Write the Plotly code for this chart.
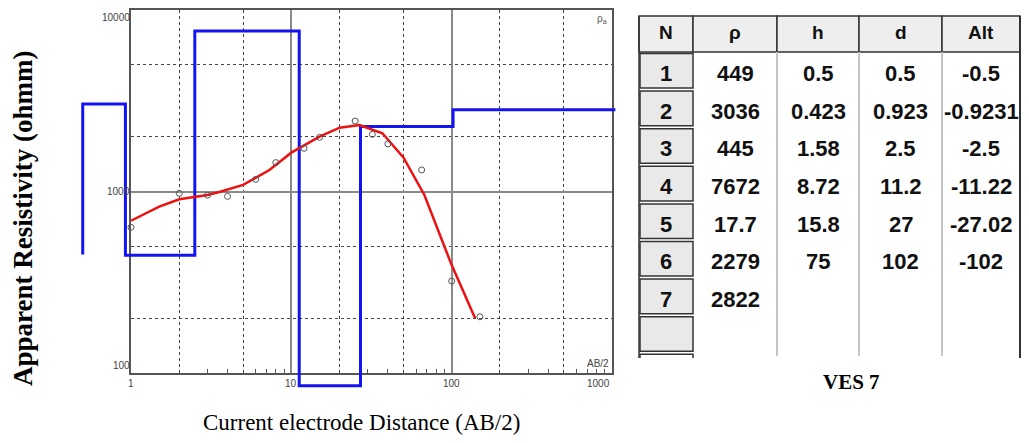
import math
import plotly.graph_objects as go

# ---------------- data ----------------
layer_n = [1, 2, 3, 4, 5, 6, 7]
layer_rho = [449, 3036, 445, 7672, 17.7, 2279, 2822]
layer_h = [0.5, 0.423, 1.58, 8.72, 15.8, 75]
layer_d = [0.5, 0.923, 2.5, 11.2, 27, 102]
layer_alt = [-0.5, -0.9231, -2.5, -11.22, -27.02, -102]

obs_ab2 = [1, 2, 3, 4, 6, 8, 12, 15, 25, 32, 40, 65, 100, 150]
obs_rho = [635, 977, 955, 940, 1167, 1443, 1730, 1989, 2445, 2066, 1828, 1314, 321, 204]

calc_ab2 = [1, 1.5, 2, 3, 3.6, 5, 7.3, 10, 15, 20, 26.6, 37, 50, 67.6, 99, 140]
calc_rho = [690, 825, 906, 957, 997, 1087, 1313, 1637, 2005, 2246, 2324, 2093, 1542, 957, 402, 200]

x_tickvals = [1, 10, 100, 1000]
x_ticktext = ["1", "10", "100", "1000"]
y_tickvals = [100, 1000, 10000]
y_ticktext = ["100", "1000", "10000"]

table_headers = ["N", "ρ", "h", "d", "Alt"]

# ---------------- layout constants (pixels of the page) ----------------
W, H = 1029, 443
OFF = 8                                      # page body margin
FW, FH = W - 2 * OFF, H - 2 * OFF            # figure size
FL, FR, FT, FB = 131, 612, 10, 373           # frame of the log-log chart
XR = (0, 3)                                  # log10 range of frame x
YR = (2, 4)                                  # log10 range of frame y
SX = (FR - FL) / (XR[1] - XR[0])
SY = (FB - FT) / (YR[1] - YR[0])
MODEL_FLOOR = 85                             # display floor of the model line
MODEL_X_END = 1050                           # half-space drawn to this AB/2


def px(x):
    return (x - OFF) / FW


def py(y):
    return 1 - (y - OFF) / FH


fig = go.Figure()

# dummy traces so that frame and minor-tick axes are drawn
fig.add_trace(go.Scatter(x=[], y=[], xaxis="x", yaxis="y", showlegend=False))
fig.add_trace(go.Scatter(x=[], y=[], xaxis="x3", yaxis="y3", showlegend=False))

# layered model (step line), allowed to run outside the frame
model_x = layer_d + [MODEL_X_END]
model_y = [max(r, MODEL_FLOOR) for r in layer_rho]
fig.add_trace(go.Scatter(
    x=model_x, y=model_y, xaxis="x2", yaxis="y2", mode="lines",
    line=dict(color="#1414f0", width=3, shape="vh"), showlegend=False,
    hoverinfo="skip"))

# calculated curve
fig.add_trace(go.Scatter(
    x=calc_ab2, y=calc_rho, xaxis="x2", yaxis="y2", mode="lines",
    line=dict(color="#ee1111", width=2.5), showlegend=False))

# observed points
fig.add_trace(go.Scatter(
    x=obs_ab2, y=obs_rho, xaxis="x2", yaxis="y2", mode="markers",
    marker=dict(symbol="circle-open", size=6, color="#555555",
                line=dict(width=1)), showlegend=False))

tickfont = dict(family="Liberation Sans Narrow, Liberation Sans, Arial", size=10,
                color="#444444")

frame_axis = dict(
    type="log", showline=True, mirror=True, linecolor="#555555", linewidth=1.5,
    showgrid=True, gridcolor="#8a8a8a", gridwidth=1.5, zeroline=False,
    ticks="", showticklabels=False, fixedrange=True,
    minor=dict(dtick="D2", showgrid=True, gridcolor="#444444",
               griddash="dot", gridwidth=1, ticks=""),
)

fig.update_layout(
    width=FW, height=FH, autosize=False,
    margin=dict(l=0, r=0, t=0, b=0, pad=0),
    paper_bgcolor="white", plot_bgcolor="rgba(0,0,0,0)",
    xaxis=dict(frame_axis, range=list(XR), domain=[px(FL), px(FR)],
               anchor="y", tickmode="array", tickvals=x_tickvals),
    yaxis=dict(frame_axis, range=list(YR), domain=[py(FB), py(FT)],
               anchor="x", tickmode="array", tickvals=y_tickvals),
    xaxis3=dict(type="log", range=list(XR), overlaying="x", anchor="y3",
                showgrid=False, showticklabels=False, zeroline=False,
                ticks="", fixedrange=True,
                minor=dict(dtick="D1", ticks="inside", ticklen=4,
                           tickcolor="#555555", showgrid=False)),
    yaxis3=dict(type="log", range=list(YR), overlaying="y", anchor="x3",
                showgrid=False, showticklabels=False, zeroline=False,
                ticks="", fixedrange=True,
                minor=dict(dtick="D1", ticks="inside", ticklen=4,
                           tickcolor="#555555", showgrid=False)),
    xaxis2=dict(type="log", domain=[0, 1], anchor="y2",
                range=[XR[0] - (FL - OFF) / SX, XR[1] + (W - OFF - FR) / SX],
                visible=False, fixedrange=True),
    yaxis2=dict(type="log", domain=[0, 1], anchor="x2",
                range=[YR[0] - (H - OFF - FB) / SY, YR[1] + (FT - OFF) / SY],
                visible=False, fixedrange=True),
)

annos = []


def note(x, y, text, font, xanchor="center", yanchor="middle", **kw):
    d = dict(x=px(x), y=py(y), xref="paper", yref="paper", text=text,
             showarrow=False, xanchor=xanchor, yanchor=yanchor, font=font)
    d.update(kw)
    annos.append(d)


# tick labels, kept inside the frame extent like the original software
for v, t in zip(x_tickvals, x_ticktext):
    anc = "right" if v == max(x_tickvals) else "center"
    annos.append(dict(x=math.log10(v), xref="x", y=py(FB + 3), yref="paper",
                      text=t, showarrow=False, xanchor=anc, yanchor="top",
                      font=tickfont))
for v, t in zip(y_tickvals, y_ticktext):
    anc = "top" if v == max(y_tickvals) else (
        "bottom" if v == min(y_tickvals) else "middle")
    annos.append(dict(x=px(FL + 1), xref="paper", y=math.log10(v), yref="y",
                      text=t, showarrow=False, xanchor="right", yanchor=anc,
                      font=tickfont))

# corner labels of the chart
note(FR - 3, FT + 9, "ρ<sub>a</sub>",
     dict(family="Liberation Sans", size=10, color="#555555"), xanchor="right")
note(FR - 1, FB - 10, "AB/2",
     dict(family="Liberation Sans Narrow, Liberation Sans", size=10,
          color="#444444"), xanchor="right")
# axis titles
note(23, 219, "<b>Apparent Resistivity (ohmm)</b>",
     dict(family="Liberation Serif", size=27, color="black"), textangle=-90)
note(361, 422, "Current electrode Distance (AB/2)",
     dict(family="Liberation Serif", size=23, color="black"))
note(851, 382, "<b>VES 7</b>",
     dict(family="Liberation Serif", size=21, color="black"))

# ---------------- table ----------------
col_edges = [639, 693, 777, 859, 942, 1020]
T_TOP, T_HEAD = 16, 52
ROW_H = 37.6
n_rows = len(layer_n) + 1
T_BOT = T_HEAD + ROW_H * n_rows
T_CUT = 358

shapes = []
dark = "#333333"
# header cells
for i in range(len(table_headers)):
    shapes.append(dict(type="rect", xref="paper", yref="paper",
                       x0=px(col_edges[i]), x1=px(col_edges[i + 1]),
                       y0=py(T_HEAD), y1=py(T_TOP),
                       fillcolor="#eeeeee", line=dict(color=dark, width=1.5),
                       layer="below"))
# data column separators
for xe in col_edges[2:-1]:
    shapes.append(dict(type="line", xref="paper", yref="paper",
                       x0=px(xe), x1=px(xe), y0=py(T_HEAD), y1=py(T_CUT - 2),
                       line=dict(color="#c4c4c4", width=2)))
# right border and left border
shapes.append(dict(type="line", xref="paper", yref="paper",
                   x0=px(col_edges[-1]), x1=px(col_edges[-1]),
                   y0=py(T_TOP), y1=py(T_CUT), line=dict(color=dark, width=2)))
shapes.append(dict(type="line", xref="paper", yref="paper",
                   x0=px(col_edges[0]), x1=px(col_edges[0]),
                   y0=py(T_TOP), y1=py(T_CUT), line=dict(color=dark, width=1.5)))
# N column cells
for r in range(n_rows):
    top = T_HEAD + ROW_H * r + 1.5
    bot = T_HEAD + ROW_H * (r + 1) - 1.5
    shapes.append(dict(type="rect", xref="paper", yref="paper",
                       x0=px(col_edges[0] + 1), x1=px(col_edges[1]),
                       y0=py(bot), y1=py(top), fillcolor="#e9e9e9",
                       line=dict(color=dark, width=1.5), layer="below"))
# partially visible next cell
shapes.append(dict(type="path", xref="paper", yref="paper",
                   path="M {a},{b} L {a},{c} L {d},{c} L {d},{b}".format(
                       a=px(col_edges[0] + 1), b=py(T_CUT), c=py(T_BOT + 1.5),
                       d=px(col_edges[1])),
                   line=dict(color=dark, width=1.5)))

tfont = dict(family="Liberation Sans", size=22, color="#111111")
hfont = dict(family="Liberation Sans", size=19, color="#111111")
for i, htxt in enumerate(table_headers):
    note((col_edges[i] + col_edges[i + 1]) / 2, (T_TOP + T_HEAD) / 2 - 1,
         "<b>%s</b>" % htxt, hfont)


def fmt(v):
    return "%g" % v


columns = [
    [str(n) for n in layer_n],
    [fmt(v) for v in layer_rho],
    [fmt(v) for v in layer_h],
    [fmt(v) for v in layer_d],
    [fmt(v) for v in layer_alt],
]
for c, vals in enumerate(columns):
    cx = (col_edges[c] + col_edges[c + 1]) / 2
    for r, txt in enumerate(vals):
        cy = T_HEAD + ROW_H * (r + 0.5) + 3
        note(cx, cy, "<b>%s</b>" % txt, tfont)

fig.update_layout(annotations=annos, shapes=shapes)

fig.write_html("out.html")
